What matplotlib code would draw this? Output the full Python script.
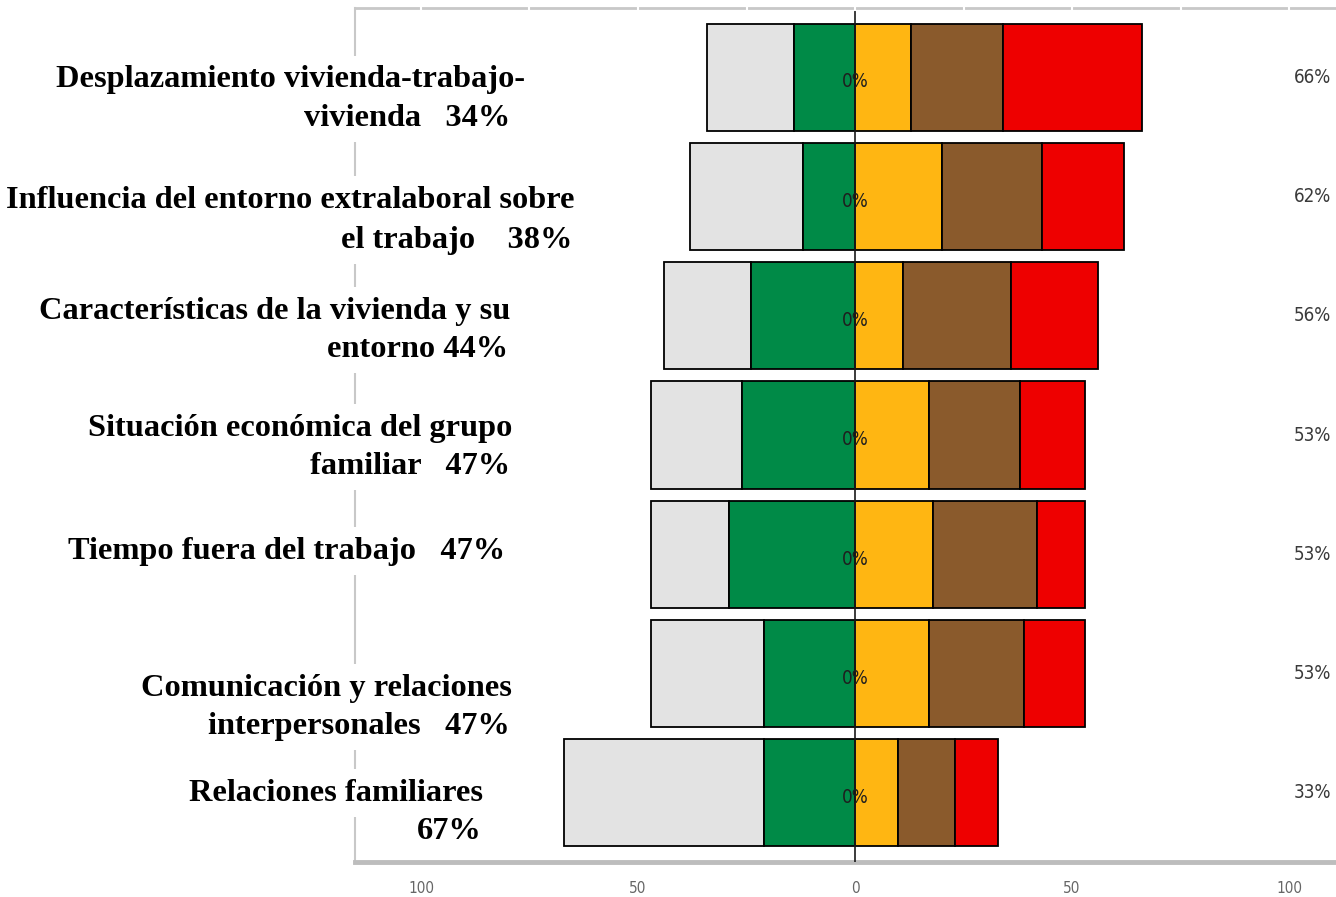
import numpy as np
import matplotlib
matplotlib.use("Agg")
import matplotlib.pyplot as plt
from matplotlib import font_manager

# ---------------- data ----------------
categories = [
    ["Desplazamiento vivienda-trabajo-", "vivienda   34%"],
    ["Influencia del entorno extralaboral sobre", "el trabajo    38%"],
    ["Características de la vivienda y su", "entorno 44%"],
    ["Situación económica del grupo", "familiar   47%"],
    ["Tiempo fuera del trabajo   47%"],
    ["Comunicación y relaciones", "interpersonales   47%"],
    ["Relaciones familiares", "67%"],
]
gray_vals = [20, 26, 20, 21, 18, 26, 46]
green_vals = [14, 12, 24, 26, 29, 21, 21]
yellow_vals = [13, 20, 11, 17, 18, 17, 10]
brown_vals = [21, 23, 25, 21, 24, 22, 13]
red_vals = [32, 19, 20, 15, 11, 14, 10]
center_labels = ["0%"] * 7
xtick_vals = [-100, -50, 0, 50, 100]
xtick_labels = ["100", "50", "0", "50", "100"]

# ---------------- layout / style ----------------
W, H = 1336, 897
# label line placement in pixels: (right edge, y center) per line
label_layout = [
    [(525, 80), (510, 118)],
    [(575, 200), (572, 240)],
    [(510, 311), (508, 349)],
    [(512, 428), (510, 466)],
    [(505, 551)],
    [(512, 688), (510, 726)],
    [(483, 793), (482, 831)],
]
colors = {"gray": "#E3E3E3", "green": "#008A47", "yellow": "#FFB612",
          "brown": "#8A5A2C", "red": "#EE0000"}

# pick a narrow sans font if one is installed
fl = font_manager.fontManager.ttflist
narrow_file = None
for f in fl:
    if f.name == "Liberation Sans Narrow" and f.weight in (400, "normal", "regular") and f.style == "normal":
        narrow_file = f.fname
        break
if narrow_file is None:
    for f in fl:
        if ("Condensed" in f.name or "Narrow" in f.name or str(f.stretch) in ("condensed", "semi-condensed")) \
                and f.weight in (400, "normal", "regular") and f.style == "normal":
            narrow_file = f.fname
            break
if narrow_file is not None:
    def nfp(size):
        return font_manager.FontProperties(fname=narrow_file, size=size)
    val_size, tick_size = 13.5, 11
else:
    def nfp(size):
        return font_manager.FontProperties(family="Liberation Sans", size=size)
    val_size, tick_size = 12.5, 10.5

fig = plt.figure(figsize=(W / 100, H / 100), dpi=100)
fig.patch.set_facecolor("white")
ax = fig.add_axes([355 / W, (H - 862) / H, (1336 - 355) / W, (862 - 8) / H])

n = len(categories)
y = np.arange(n)
gray = np.array(gray_vals)
green = np.array(green_vals)
yellow = np.array(yellow_vals)
brown = np.array(brown_vals)
red = np.array(red_vals)

bh = 0.9
ek = dict(edgecolor="black", linewidth=1.3, height=bh, zorder=3)
ax.barh(y, gray, left=-(gray + green), color=colors["gray"], **ek)
ax.barh(y, green, left=-green, color=colors["green"], **ek)
ax.barh(y, yellow, left=0, color=colors["yellow"], **ek)
ax.barh(y, brown, left=yellow, color=colors["brown"], **ek)
ax.barh(y, red, left=yellow + brown, color=colors["red"], **ek)

ax.axvline(0, color="#1a1a1a", lw=1.2, zorder=5)

right_tot = yellow + brown + red
for i in range(n):
    ax.text(0, i + 0.04, center_labels[i], ha="center", va="center",
            color="#1e1e1e", zorder=6, fontproperties=nfp(val_size))
    ax.text(105.3, i, f"{right_tot[i]}%", ha="center", va="center",
            color="#3a3a3a", fontproperties=nfp(val_size))

ax.set_xlim(-115.2, 110.8)
ax.set_ylim(n - 1 + 0.58, -0.58)

# spines
ax.spines["right"].set_visible(False)
ax.spines["top"].set_color("#C8C8C8")
ax.spines["top"].set_linewidth(2)
ax.spines["bottom"].set_color("#BDBDBD")
ax.spines["bottom"].set_linewidth(3.5)
ax.spines["left"].set_color("#C8C8C8")
ax.spines["left"].set_linewidth(1.5)

ax.set_yticks([])
ax.set_xticks(xtick_vals)
ax.set_xticklabels(xtick_labels, color="#666666")
for lab in ax.get_xticklabels():
    lab.set_fontproperties(nfp(tick_size))
ax.tick_params(axis="x", length=0, pad=14)

# small white breaks on the top line
for xv in np.arange(-100, 101, 25):
    ax.plot([xv, xv], [-0.58, -0.56], color="white", lw=1.5, clip_on=False, zorder=6)

# category labels (bold serif); white boxes drawn first, text on top
lab_kw = dict(ha="right", va="center", fontsize=23.3, fontweight="bold",
              family="Liberation Serif")
for lines, lay in zip(categories, label_layout):
    for txt, (xr, yc) in zip(lines, lay):
        fig.text(xr / W, 1 - yc / H, txt, color="white", zorder=10,
                 bbox=dict(facecolor="white", edgecolor="none", pad=7), **lab_kw)
for lines, lay in zip(categories, label_layout):
    for txt, (xr, yc) in zip(lines, lay):
        fig.text(xr / W, 1 - yc / H, txt, color="black", zorder=11, **lab_kw)

fig.savefig("out.png", dpi=100, facecolor="white")
